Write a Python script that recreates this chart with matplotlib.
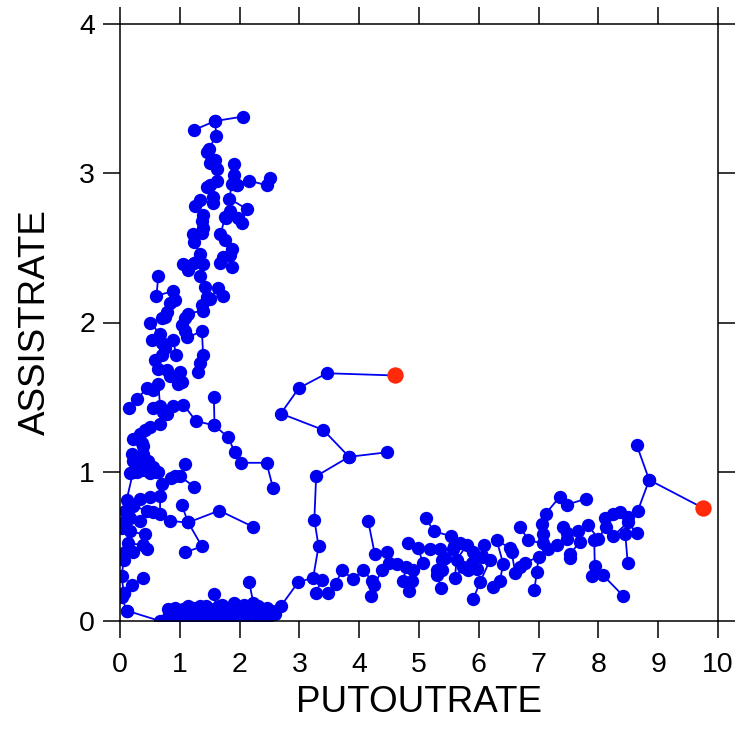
import matplotlib
matplotlib.use("Agg")
import matplotlib.pyplot as plt
import numpy as np

plt.rcParams['font.family'] = ['Liberation Sans', 'DejaVu Sans']

# ---- data: consecutive points of each path are joined by a line ----
putout = [
    # path 0 (ends at red point)
    2.30, 2.42, 2.55, 2.69, 2.98, 3.23, 3.32, 3.25, 3.28, 3.83, 3.40, 2.69, 2.99, 3.46, 4.60,
    # path 1 (ends at red point)
    7.83, 8.00, 8.12, 8.11, 8.25, 8.36, 8.50, 8.66, 8.85, 9.75,
    # paths 2, 3
    3.83, 4.46,
    8.85, 8.64,
    # path 4
    3.37, 3.28, 3.47, 3.61, 3.71, 3.90, 4.06, 4.22, 4.20,
    # path 5
    4.25, 4.38, 4.49, 4.46, 4.26, 4.15,
    # path 6
    4.63, 4.79, 4.73, 4.84,
    # path 7
    4.88, 4.90, 5.06, 4.99, 4.82,
    # path 8
    5.11, 5.25, 5.53,
    # path 9
    5.18, 5.35, 5.43, 5.38, 5.38, 5.30, 5.30, 5.37,
    # path 10
    5.57, 5.58, 5.69, 5.80, 5.63, 5.60, 5.74, 5.82, 5.97, 5.88, 5.91, 6.05, 6.08, 6.19, 6.02, 5.91,
    # path 11
    6.24, 6.35, 6.41, 6.30, 6.52, 6.55, 6.61, 6.69, 6.77, 7.00, 6.97, 6.93,
    # path 12
    6.69, 6.83, 7.08, 7.16, 7.30, 7.47, 7.41, 7.47, 7.66, 7.69, 7.53, 7.53,
    # path 13
    7.80, 7.48, 7.35, 7.12, 7.05, 7.08,
    # path 14
    7.93, 7.94, 7.89, 8.07, 8.41,
    # path 15
    8.64, 8.49, 8.25, 8.45, 8.49,
    # path 16 (bottom band)
    0.11, 0.67, 0.75, 0.82, 0.88, 0.95, 1.00, 1.07, 1.14, 1.18, 1.25, 1.30, 1.34, 1.40, 1.45, 1.50,
    1.55, 1.62, 1.66, 1.70, 1.75, 1.80, 1.84, 1.88, 1.92, 1.96, 2.00, 2.05, 2.10, 2.15, 2.20, 2.25,
    2.33, 2.38, 2.48, 2.60,
    # path 17
    0.80, 0.92, 1.05, 1.22, 1.44, 1.70, 1.90, 2.08, 2.30, 2.45,
    # paths 18, 19
    1.58, 1.60,
    2.23, 2.16,
    # path 20 (left column)
    0.11, 0.03, 0.06, 0.03, 0.06, 0.08, 0.22, 0.14, 0.39, 0.45, 0.42, 0.17, 0.03, 0.08, 0.17, 0.33,
    0.08, 0.22, 0.45, 0.56, 0.67, 0.67, 0.50, 0.33, 0.11, 0.22, 0.39, 0.50, 0.61, 0.70,
    # path 21
    0.06, 0.20, 0.38,
    # path 22
    0.17, 0.28, 0.22, 0.20, 0.28, 0.39, 0.39, 0.47, 0.56, 0.64,
    # path 23
    0.39, 0.36, 0.22, 0.33, 0.42, 0.50, 0.67,
    # path 24
    0.15, 0.29, 0.45, 0.56, 0.64, 0.67, 0.56, 0.72, 0.78, 0.89, 1.06, 1.27, 1.58, 1.81, 1.92, 2.03,
    2.45, 2.56,
    # path 25
    1.58, 1.57,
    # path 26
    0.97, 1.03, 1.00, 0.84, 0.78, 0.64, 0.59, 0.70, 0.75, 0.94, 0.89, 0.70, 0.53, 0.67, 0.51, 0.70,
    0.75, 0.78, 0.84, 0.92, 0.89, 0.61, 0.64,
    # path 27 (upper column)
    1.31, 1.33, 1.39, 1.37, 1.12, 1.09, 1.03, 1.09, 1.14, 1.39, 1.37, 1.51, 1.64, 1.73, 1.45, 1.42,
    1.34, 1.39, 1.23, 1.14, 1.06, 1.34, 1.23, 1.22, 1.37, 1.39, 1.37, 1.39, 1.25, 1.34, 1.56, 1.56,
    1.45, 1.51, 1.62, 1.62, 1.51, 1.59, 1.48, 1.45, 1.61, 1.59, 1.24,
    # path 28
    1.59, 2.06,
    # path 29
    1.67, 1.73, 1.84, 1.87, 1.88, 1.76, 1.68, 1.76, 1.78, 1.84, 1.98, 2.04, 2.12, 1.83, 1.87, 1.95,
    1.90, 1.90,
    # path 30
    1.95, 2.16, 2.45, 2.51,
    # paths 31-35
    0.84, 1.14, 1.03,
    1.14, 1.66, 2.23,
    1.14, 1.37, 1.09,
    1.09, 1.00, 1.24,
    0.92, 0.86,
]

assist = [
    # path 0
    0.03, 0.06, 0.07, 0.10, 0.26, 0.29, 0.50, 0.68, 0.97, 1.10, 1.28, 1.39, 1.56, 1.66, 1.645,
    # path 1
    0.64, 0.55, 0.63, 0.69, 0.72, 0.73, 0.695, 0.74, 0.945, 0.757,
    # paths 2, 3
    1.10, 1.13,
    0.945, 1.18,
    # path 4
    0.275, 0.19, 0.19, 0.25, 0.34, 0.28, 0.34, 0.27, 0.17,
    # path 5
    0.24, 0.34, 0.39, 0.46, 0.45, 0.67,
    # path 6
    0.38, 0.36, 0.27, 0.20,
    # path 7
    0.27, 0.34, 0.39, 0.49, 0.52,
    # path 8
    0.69, 0.60, 0.57,
    # path 9
    0.48, 0.48, 0.42, 0.41, 0.34, 0.34, 0.31, 0.22,
    # path 10
    0.48, 0.50, 0.52, 0.51, 0.41, 0.29, 0.36, 0.34, 0.35, 0.39, 0.46, 0.43, 0.51, 0.41, 0.26, 0.15,
    # path 11
    0.23, 0.27, 0.38, 0.54, 0.49, 0.46, 0.32, 0.36, 0.39, 0.43, 0.33, 0.21,
    # path 12
    0.63, 0.54, 0.52, 0.48, 0.51, 0.55, 0.63, 0.59, 0.60, 0.53, 0.45, 0.42,
    # path 13
    0.82, 0.78, 0.83, 0.72, 0.65, 0.58,
    # path 14
    0.54, 0.37, 0.30, 0.31, 0.17,
    # path 15
    0.59, 0.66, 0.57, 0.58, 0.39,
    # path 16
    0.07, 0.00, 0.01, 0.04, 0.02, 0.05, 0.01, 0.03, 0.10, 0.02, 0.05, 0.01, 0.10, 0.04, 0.02, 0.07,
    0.03, 0.05, 0.10, 0.02, 0.06, 0.09, 0.03, 0.07, 0.01, 0.10, 0.04, 0.08, 0.02, 0.06, 0.10, 0.04,
    0.08, 0.02, 0.03, 0.05,
    # path 17
    0.08, 0.09, 0.08, 0.09, 0.10, 0.11, 0.12, 0.11, 0.10, 0.09,
    # paths 18, 19
    0.18, 0.09,
    0.12, 0.26,
    # path 20
    0.07, 0.16, 0.19, 0.30, 0.41, 0.46, 0.46, 0.52, 0.51, 0.48, 0.58, 0.60, 0.62, 0.67, 0.69, 0.67,
    0.74, 0.77, 0.74, 0.73, 0.72, 0.84, 0.83, 0.82, 0.81, 1.00, 1.01, 0.99, 1.00, 0.92,
    # path 21
    0.19, 0.24, 0.29,
    # path 22
    0.99, 1.00, 1.07, 1.12, 1.10, 1.12, 1.06, 1.07, 1.03, 1.00,
    # path 23
    1.17, 1.19, 1.22, 1.25, 1.28, 1.30, 1.32,
    # path 24
    1.43, 1.49, 1.56, 1.55, 1.59, 1.44, 1.43, 1.40, 1.39, 1.44, 1.45, 1.34, 1.31, 1.23, 1.13, 1.06,
    1.06, 0.89,
    # path 25
    1.31, 1.50,
    # path 26
    1.59, 1.60, 1.67, 1.64, 1.68, 1.69, 1.75, 1.78, 1.83, 1.78, 1.88, 1.86, 1.88, 1.92, 2.00, 2.03,
    2.04, 2.07, 2.13, 2.15, 2.21, 2.18, 2.31,
    # path 27
    1.67, 1.73, 1.78, 1.94, 1.90, 1.94, 1.98, 2.03, 2.06, 2.08, 2.12, 2.16, 2.23, 2.18, 2.17, 2.24,
    2.31, 2.39, 2.40, 2.35, 2.39, 2.46, 2.54, 2.59, 2.60, 2.63, 2.68, 2.72, 2.78, 2.82, 2.80, 2.84,
    2.91, 2.92, 2.95, 3.03, 3.07, 3.09, 3.16, 3.14, 3.25, 3.35, 3.29,
    # path 28
    3.35, 3.38,
    # path 29
    2.40, 2.44, 2.45, 2.37, 2.49, 2.55, 2.59, 2.71, 2.70, 2.75, 2.70, 2.67, 2.76, 2.83, 2.93, 2.92,
    2.99, 3.06,
    # path 30
    2.92, 2.95, 2.92, 2.97,
    # paths 31-35
    0.67, 0.66, 0.78,
    0.66, 0.74, 0.63,
    0.66, 0.50, 0.46,
    1.05, 0.97, 0.90,
    0.97, 0.96,
]

path_len = [15, 10, 2, 2, 9, 6, 4, 5, 3, 8, 16, 12, 12, 6, 5, 5,
            36, 10, 2, 2, 30, 3, 10, 7, 18, 2, 23, 43, 2, 18, 4,
            3, 3, 3, 3, 2]
red_paths = [0, 1]

x_ticks = [0, 1, 2, 3, 4, 5, 6, 7, 8, 9, 10]
y_ticks = [0, 1, 2, 3, 4]

assert len(putout) == len(assist) == sum(path_len), (len(putout), len(assist), sum(path_len))

BLUE = '#0000F0'
RED = '#FF2A0A'

fig = plt.figure(figsize=(7.41, 7.32), dpi=100)
ax = fig.add_axes([120 / 741, 111 / 732, 598 / 741, 597 / 732])

starts = np.concatenate([[0], np.cumsum(path_len)[:-1]])
for i, (s, n) in enumerate(zip(starts, path_len)):
    xs = putout[s:s + n]
    ys = assist[s:s + n]
    ax.plot(xs, ys, '-', color=BLUE, lw=1.3, marker='o', ms=9.6,
            mfc=BLUE, mec=BLUE, mew=0, zorder=2)
for i in red_paths:
    s, n = starts[i], path_len[i]
    ax.plot(putout[s + n - 1], assist[s + n - 1], 'o', color=RED, ms=11.8,
            mew=0, zorder=3)

ax.set_xlim(0, 10)
ax.set_ylim(0, 4)
ax.set_xticks(x_ticks)
ax.set_yticks(y_ticks)
for sp in ax.spines.values():
    sp.set_linewidth(1.1)
ax.tick_params(direction='out', length=12, width=1.1, top=True, right=True,
               labelsize=20.5, colors='black')
ax.tick_params(axis='x', pad=10)
ax.tick_params(axis='y', pad=6)
ax.set_xlabel('PUTOUTRATE', fontsize=26.5, labelpad=5)
ax.set_ylabel('ASSISTRATE', fontsize=26.5, labelpad=19)

fig.savefig('out.png', dpi=100)
